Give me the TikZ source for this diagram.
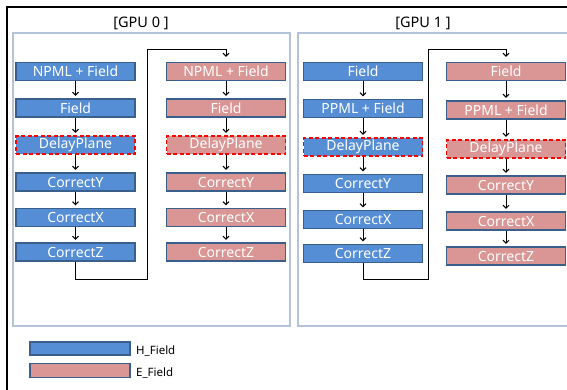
\documentclass[tikz,border=0pt]{standalone}
\usepackage{fontspec}
\setmainfont{Noto Sans}
\usetikzlibrary{arrows.meta}
\definecolor{hblue}{HTML}{558ED5}
\definecolor{epink}{HTML}{D99694}
\definecolor{bedge}{HTML}{3A5F8B}
\definecolor{panel}{HTML}{B4C4D8}
\tikzset{
  base/.style={minimum width=119pt, minimum height=18pt, inner sep=0pt, text=white, font=\fontsize{14}{14}\selectfont},
  hbox/.style={base, fill=hblue, draw=bedge, line width=1.2pt},
  ebox/.style={base, fill=epink, draw=bedge, line width=1.2pt},
  hdelay/.style={base, fill=hblue, draw=red, dashed, line width=1.3pt, dash pattern=on 4pt off 2.5pt},
  edelay/.style={base, fill=epink, draw=red, dashed, line width=1.3pt, dash pattern=on 4pt off 2.5pt},
  flow/.style={draw=black, line width=1pt, -{Straight Barb[length=3pt,width=6pt]}, shorten >=2.5pt},
  loop/.style={draw=black, line width=1pt, -{Straight Barb[length=3pt,width=6pt]}, shorten >=5pt},
  pan/.style={draw=panel, line width=1.1pt},
  title/.style={font=\fontsize{14.5}{15}\selectfont, text=black},
  leg/.style={font=\fontsize{11.5}{12}\selectfont, text=black, anchor=west, inner sep=0pt}
}
\begin{document}
\begin{tikzpicture}[x=1pt,y=-1pt]
\useasboundingbox (0,0) rectangle (567,389);
\clip (0,0) rectangle (567,389);
\fill[white] (0,0) rectangle (567,389);
% outer frame
\draw[black, line width=1.5pt] (7,7) rectangle (620,420);
% panels
\draw[pan] (13,33) rectangle (290,326);
\draw[pan] (298,33) rectangle (620,326);
\node[title] (g0) at (141,23) {[GPU 0 ]};
\node[title] (g1) at (423,23) {[GPU 1 ]};
% GPU 0 left (H)
\node[hbox] (a1) at (75.5,71.5) {NPML + Field};
\node[hbox] (a2) at (75.5,108) {Field};
\node[hdelay] (a3) at (75.5,145) {DelayPlane};
\node[hbox] (a4) at (75.5,182) {CorrectY};
\node[hbox] (a5) at (75.5,217.5) {CorrectX};
\node[hbox] (a6) at (75.5,252) {CorrectZ};
% GPU 0 right (E)
\node[ebox] (b1) at (226,71.5) {NPML + Field};
\node[ebox] (b2) at (226,108) {Field};
\node[edelay] (b3) at (226,145) {DelayPlane};
\node[ebox] (b4) at (226,182) {CorrectY};
\node[ebox] (b5) at (226,217.5) {CorrectX};
\node[ebox] (b6) at (226,252) {CorrectZ};
% GPU 1 left (H)
\node[hbox] (c1) at (363,71.5) {Field};
\node[hbox] (c2) at (363,108.5) {PPML + Field};
\node[hdelay] (c3) at (363,147) {DelayPlane};
\node[hbox] (c4) at (363,183.5) {CorrectY};
\node[hbox] (c5) at (363,219.5) {CorrectX};
\node[hbox] (c6) at (363,253.5) {CorrectZ};
% GPU 1 right (E)
\node[ebox] (d1) at (506,71.5) {Field};
\node[ebox] (d2) at (506,110) {PPML + Field};
\node[edelay] (d3) at (506,149) {DelayPlane};
\node[ebox] (d4) at (506,185) {CorrectY};
\node[ebox] (d5) at (506,221) {CorrectX};
\node[ebox] (d6) at (506,256) {CorrectZ};
% arrows within columns
\foreach \c in {a,b,c,d}{
  \foreach \i [evaluate=\i as \j using int(\i+1)] in {1,...,5}{
    \draw[flow] (\c\i.south) -- (\c\j.north);
  }
}
% loop connectors
\coordinate (p0a) at (147,279);
\coordinate (p0b) at (147,49);
\draw[loop] (a6.south) |- (p0a) -- (p0b) -| (b1.north);
\coordinate (p1a) at (428,279);
\coordinate (p1b) at (428,49);
\draw[loop] (c6.south) |- (p1a) -- (p1b) -| (d1.north);
% legend
\node[hbox, minimum width=100pt, minimum height=13pt] (lh) at (80,348.5) {};
\node[ebox, minimum width=100pt, minimum height=14pt] (le) at (80,370.5) {};
\node[leg] (lht) at (136,351) {H\_Field};
\node[leg] (let) at (136,373) {E\_Field};
\end{tikzpicture}
\end{document}
